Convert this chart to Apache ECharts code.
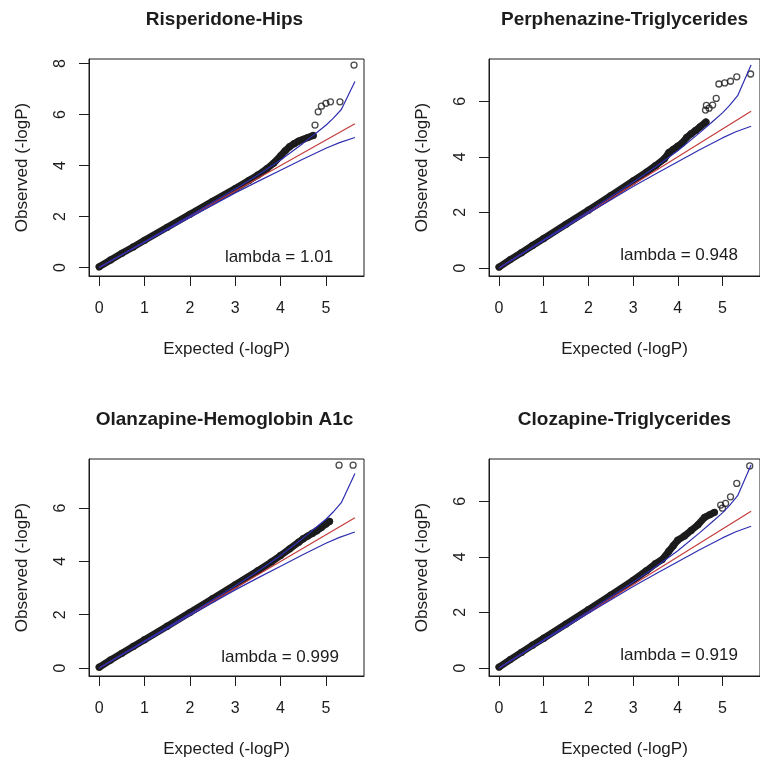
<!DOCTYPE html>
<html>
<head>
<meta charset="utf-8">
<script src="https://cdn.jsdelivr.net/npm/echarts@6/dist/echarts.min.js"></script>
<style>
html, body { margin: 0; padding: 0; background: #fff; }
#main { width: 760px; height: 762px; }
</style>
</head>
<body>
<div id="main"></div>
<script>
// tick labels
const xTicks = [0, 1, 2, 3, 4, 5];
const yTicksTall = [0, 2, 4, 6, 8];
const yTicks = [0, 2, 4, 6];

const titles = ['Risperidone-Hips', 'Perphenazine-Triglycerides', 'Olanzapine-Hemoglobin A1c', 'Clozapine-Triglycerides'];
const lambdas = ['lambda = 1.01', 'lambda = 0.948', 'lambda = 0.999', 'lambda = 0.919'];

// reference lines (same for every panel)
const redLine = [[0, 0], [5.64, 5.64]];
const ciUpper = [[0, 0], [1, 1.01], [2, 2.03], [3, 3.08], [3.5, 3.63], [4, 4.22], [4.5, 4.88], [4.8, 5.3], [5.0, 5.58], [5.16, 5.85], [5.34, 6.2], [5.64, 7.3]];
const ciLower = [[0, 0], [1, 0.99], [2, 1.97], [3, 2.93], [3.5, 3.38], [4, 3.82], [4.5, 4.26], [5.0, 4.68], [5.3, 4.9], [5.64, 5.1]];

// observed points: dense band + isolated tail points
const p1Band = [[0, 0.03], [0.25, 0.3], [0.5, 0.56], [0.75, 0.81], [1, 1.07], [1.5, 1.58], [2, 2.09], [2.5, 2.6], [3, 3.1], [3.3, 3.42], [3.5, 3.63], [3.7, 3.88], [3.85, 4.1], [4.0, 4.38], [4.1, 4.58], [4.2, 4.74], [4.3, 4.86], [4.4, 4.96], [4.5, 5.03], [4.6, 5.1], [4.72, 5.18]];
const p1Tail = [[4.76, 5.59], [4.83, 6.11], [4.9, 6.33], [5.0, 6.44], [5.1, 6.5], [5.31, 6.5], [5.62, 7.94]];

const p2Band = [[0, 0.03], [0.25, 0.3], [0.5, 0.55], [0.75, 0.81], [1, 1.06], [1.5, 1.57], [2, 2.08], [2.5, 2.6], [3, 3.13], [3.3, 3.45], [3.5, 3.68], [3.7, 3.93], [3.8, 4.15], [3.9, 4.27], [4.0, 4.38], [4.1, 4.5], [4.2, 4.7], [4.3, 4.83], [4.4, 4.95], [4.5, 5.08], [4.63, 5.25]];
const p2Tail = [[4.62, 5.68], [4.64, 5.85], [4.7, 5.75], [4.78, 5.86], [4.86, 6.1], [4.92, 6.62], [5.05, 6.66], [5.18, 6.72], [5.32, 6.88], [5.63, 6.98]];

const p3Band = [[0, 0.03], [0.25, 0.3], [0.5, 0.55], [0.75, 0.81], [1, 1.06], [1.5, 1.57], [2, 2.08], [2.5, 2.6], [3, 3.12], [3.5, 3.65], [3.8, 3.98], [4, 4.22], [4.2, 4.47], [4.4, 4.72], [4.5, 4.85], [4.6, 4.95], [4.7, 5.05], [4.8, 5.15], [4.9, 5.27], [5.0, 5.4], [5.08, 5.5]];
const p3Tail = [[5.29, 7.61], [5.6, 7.61]];

const p4Band = [[0, 0.03], [0.25, 0.3], [0.5, 0.56], [0.75, 0.82], [1, 1.07], [1.5, 1.58], [2, 2.1], [2.5, 2.62], [3, 3.15], [3.3, 3.5], [3.5, 3.75], [3.65, 3.9], [3.8, 4.2], [3.9, 4.4], [4.0, 4.6], [4.15, 4.75], [4.3, 4.95], [4.45, 5.15], [4.6, 5.42], [4.72, 5.52], [4.82, 5.6]];
const p4Tail = [[4.96, 5.86], [5.0, 5.75], [5.07, 5.92], [5.18, 6.16], [5.32, 6.64], [5.61, 7.27]];

const bands = [p1Band, p2Band, p3Band, p4Band];
const tails = [p1Tail, p2Tail, p3Tail, p4Tail];

// layout
const boxes = [
  { left: 89, top: 59, yMin: -0.33, yMax: 8.18, ticks: yTicksTall },
  { left: 489, top: 59, yMin: -0.29, yMax: 7.52, ticks: yTicks },
  { left: 89, top: 459, yMin: -0.30, yMax: 7.84, ticks: yTicks },
  { left: 489, top: 459, yMin: -0.29, yMax: 7.52, ticks: yTicks }
];
const lambdaPos = [[279, 257], [679, 255], [280, 657], [679, 655]];
const BOX_W = 275, BOX_H = 217;

const ink = '#1c1c1c';
const font = 'Liberation Sans, Arial, sans-serif';
const blue = '#2e2eb0';
const red = '#c43c3c';

const grid = [], xAxis = [], yAxis = [], series = [], graphic = [];

boxes.forEach(function (b, i) {
  grid.push({
    left: b.left, top: b.top, width: BOX_W, height: BOX_H,
    show: true, borderColor: ink, borderWidth: 1, backgroundColor: 'transparent'
  });
  xAxis.push({
    gridIndex: i, type: 'value', min: -0.225, max: 5.84,
    axisLine: { show: true, onZero: false, lineStyle: { color: ink } },
    axisTick: { show: true, length: 10, customValues: xTicks, lineStyle: { color: ink } },
    axisLabel: { customValues: xTicks, margin: 25, fontSize: 16, color: ink, fontFamily: font },
    splitLine: { show: false },
    name: 'Expected (-logP)', nameLocation: 'middle', nameGap: 65,
    nameTextStyle: { fontSize: 17, color: ink, fontFamily: font }
  });
  yAxis.push({
    gridIndex: i, type: 'value', min: b.yMin, max: b.yMax,
    axisLine: { show: true, onZero: false, lineStyle: { color: ink } },
    axisTick: { show: true, length: 10, customValues: b.ticks, lineStyle: { color: ink } },
    axisLabel: { customValues: b.ticks, rotate: 90, margin: 20, fontSize: 16, color: ink, fontFamily: font },
    splitLine: { show: false },
    name: 'Observed (-logP)', nameLocation: 'middle', nameGap: 58,
    nameTextStyle: { fontSize: 17, color: ink, fontFamily: font }
  });

  const circle = {
    type: 'scatter', xAxisIndex: i, yAxisIndex: i, symbol: 'circle', symbolSize: 6,
    itemStyle: { color: 'rgba(0,0,0,0)', borderColor: ink, borderWidth: 1.3 }, z: 3, silent: true
  };
  series.push({
    type: 'line', xAxisIndex: i, yAxisIndex: i, data: bands[i], symbol: 'none', silent: true, z: 2,
    lineStyle: { color: ink, width: 7, cap: 'round', join: 'round' }
  });
  series.push(Object.assign({}, circle, { data: bands[i] }));
  series.push(Object.assign({}, circle, { data: tails[i] }));
  series.push({
    type: 'line', xAxisIndex: i, yAxisIndex: i, data: redLine, symbol: 'none', silent: true, z: 4,
    lineStyle: { color: red, width: 1.2 }
  });
  [ciUpper, ciLower].forEach(function (ci) {
    series.push({
      type: 'line', xAxisIndex: i, yAxisIndex: i, data: ci, symbol: 'none', silent: true, z: 4,
      lineStyle: { color: blue, width: 1.2 }
    });
  });

  graphic.push({
    type: 'text', x: b.left + BOX_W / 2 - 2, y: b.top - 39,
    style: { text: titles[i], fontSize: 19, fontWeight: 'bold', fontFamily: font, fill: ink,
      textAlign: 'center', textVerticalAlign: 'middle' }
  });
  graphic.push({
    type: 'text', x: lambdaPos[i][0], y: lambdaPos[i][1],
    style: { text: lambdas[i], fontSize: 17, fontFamily: font, fill: ink,
      textAlign: 'center', textVerticalAlign: 'middle' }
  });
});

const chart = echarts.init(document.getElementById('main'), null, { renderer: 'canvas' });
chart.setOption({
  animation: false,
  backgroundColor: '#fff',
  grid: grid,
  xAxis: xAxis,
  yAxis: yAxis,
  series: series,
  graphic: graphic
});
</script>
</body>
</html>
